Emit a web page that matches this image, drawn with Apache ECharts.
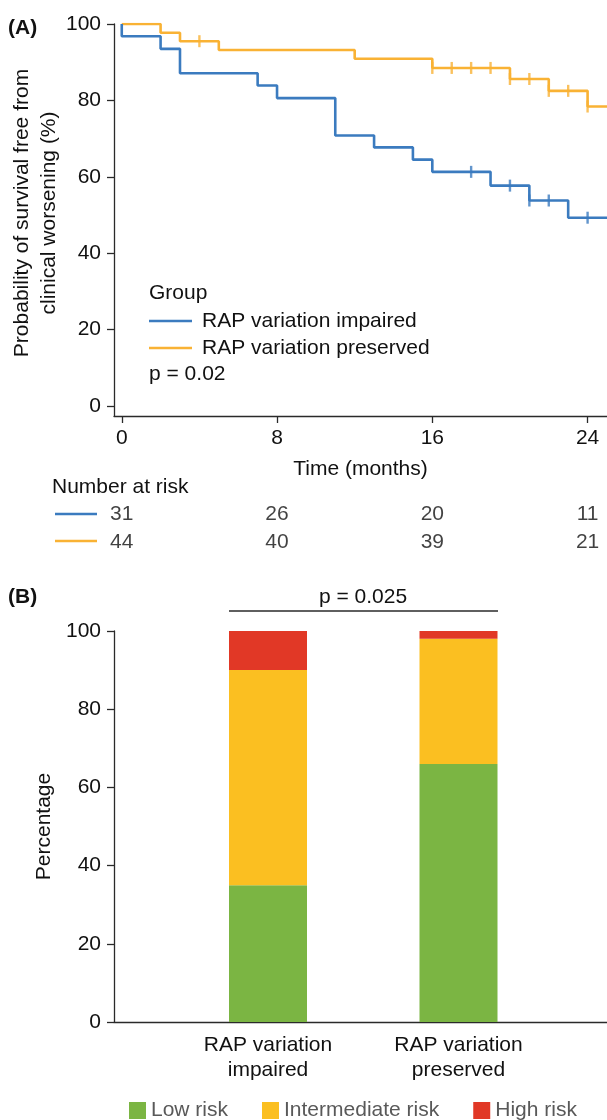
<!DOCTYPE html>
<html>
<head>
<meta charset="utf-8">
<script src="https://cdn.jsdelivr.net/npm/echarts@6/dist/echarts.min.js"></script>
<style>
html,body{margin:0;padding:0;background:#fff;}
#chart{width:607px;height:1120px;}
</style>
</head>
<body>
<div id="chart"></div>
<script>
// ---------- Data ----------
const groupNames = ['RAP variation impaired', 'RAP variation preserved'];

// Kaplan-Meier steps (time in months, survival %)
const impairedTimes = [0, 0, 2, 3, 7, 8, 11, 13, 15, 16, 19, 21, 23];
const impairedSurv = [100, 96.8, 93.5, 87.1, 83.9, 80.6, 70.8, 67.7, 64.5, 61.3, 57.7, 53.8, 49.3];
const impairedCensorTimes = [18, 20, 21, 22, 24];
const impairedCensorSurv = [61.3, 57.7, 53.8, 53.8, 49.3];

const preservedTimes = [0, 2, 3, 5, 12, 16, 20, 22, 24];
const preservedSurv = [100, 97.7, 95.5, 93.2, 90.9, 88.5, 85.6, 82.5, 78.4];
const preservedCensorTimes = [4, 16, 17, 18, 19, 20, 21, 22, 23, 24];
const preservedCensorSurv = [95.5, 88.5, 88.5, 88.5, 88.5, 85.6, 85.6, 82.5, 82.5, 78.4];

const followUpEnd = 25;
const kmXTicks = [0, 8, 16, 24];
const kmYTicks = [0, 20, 40, 60, 80, 100];

// Number at risk
const riskTimes = [0, 8, 16, 24];
const riskImpaired = [31, 26, 20, 11];
const riskPreserved = [44, 40, 39, 21];

// Stacked bars (percentage)
const barCategories = ['RAP variation\nimpaired', 'RAP variation\npreserved'];
const lowRisk = [35, 66];
const intermediateRisk = [55, 32];
const highRisk = [10, 2];
const riskNames = ['Low risk', 'Intermediate risk', 'High risk'];

// ---------- Style ----------
const FONT = 'Liberation Sans, Arial, Helvetica, sans-serif';
const FS = 21;
const BLUE = '#3b7bbf';
const ORANGE = '#f9b234';
const GREEN = '#7bb543';
const YELLOW = '#fbbf21';
const RED = '#e13826';
const AXIS = '#2a2a2a';
const TXT = '#111';

function kmPoints(times, surv) {
  const pts = times.map((t, i) => [t, surv[i]]);
  pts.push([followUpEnd, surv[surv.length - 1]]);
  return pts;
}
function zip(a, b) { return a.map((v, i) => [v, b[i]]); }

const chart = echarts.init(document.getElementById('chart'), null, {renderer: 'canvas'});

const axisLine = {show: true, onZero: false, lineStyle: {color: AXIS, width: 1.3}};
const axisTick = {show: true, inside: false, length: 7, lineStyle: {color: AXIS, width: 1.3}};
const axisLabel = {color: TXT, fontSize: FS, fontFamily: FONT};
const nameStyle = {color: TXT, fontSize: FS, fontFamily: FONT};

// bar plot band geometry (category axis placed inside the wider frame)
const barLeft = 172.75, barRight = 53.25, frameLeft = 114;

const option = {
  animation: false,
  backgroundColor: '#fff',
  textStyle: {fontFamily: FONT},
  grid: [
    {left: 114, right: 0, top: 24, height: 392, outerBoundsMode: 'none'},
    {left: 114, right: 0, top: 487, height: 83, outerBoundsMode: 'none'},
    {left: barLeft, right: barRight, top: 631, bottom: 98, outerBoundsMode: 'none'},
    {left: frameLeft, right: 0, top: 631, bottom: 98, outerBoundsMode: 'none'}
  ],
  xAxis: [
    {
      gridIndex: 0, type: 'value', min: -0.4, max: followUpEnd,
      axisLine: axisLine,
      axisTick: Object.assign({}, axisTick, {customValues: kmXTicks}),
      axisLabel: Object.assign({}, axisLabel, {customValues: kmXTicks, margin: 12}),
      splitLine: {show: false},
      name: 'Time (months)', nameLocation: 'middle', nameGap: 43, nameTextStyle: nameStyle
    },
    {gridIndex: 1, type: 'value', min: -0.4, max: followUpEnd, show: false},
    {
      gridIndex: 2, type: 'category', data: barCategories,
      axisLine: {show: false}, axisTick: {show: false},
      axisLabel: Object.assign({}, axisLabel, {margin: 11, lineHeight: 25, interval: 0}),
      splitLine: {show: false}
    },
    {
      gridIndex: 3, type: 'value', min: 0, max: 1,
      axisLine: axisLine, axisTick: {show: false}, axisLabel: {show: false}, splitLine: {show: false}
    }
  ],
  yAxis: [
    {
      gridIndex: 0, type: 'value', min: -2.6, max: 100,
      axisLine: axisLine,
      axisTick: Object.assign({}, axisTick, {customValues: kmYTicks}),
      axisLabel: Object.assign({}, axisLabel, {customValues: kmYTicks, margin: 13}),
      splitLine: {show: false},
      name: 'Probability of survival free from\nclinical worsening (%)',
      nameLocation: 'middle', nameGap: 51, nameMoveOverlap: false,
      nameTextStyle: Object.assign({}, nameStyle, {lineHeight: 27, padding: [0, 0, 0, 14]})
    },
    {gridIndex: 1, type: 'value', min: 0, max: 3, inverse: true, show: false},
    {
      gridIndex: 2, type: 'value', min: 0, max: 100, interval: 20,
      offset: barLeft - frameLeft,
      axisLine: axisLine, axisTick: axisTick,
      axisLabel: Object.assign({}, axisLabel, {margin: 13}),
      splitLine: {show: false},
      name: 'Percentage', nameLocation: 'middle', nameGap: 57, nameTextStyle: nameStyle
    },
    {gridIndex: 3, type: 'value', min: 0, max: 100, show: false}
  ],
  legend: {
    data: riskNames,
    left: 124, top: 1095,
    icon: 'rect', itemWidth: 17, itemHeight: 17, itemGap: 34,
    textStyle: {color: '#595959', fontSize: FS, fontFamily: FONT}
  },
  series: [
    {
      name: groupNames[0], type: 'line', step: 'end', xAxisIndex: 0, yAxisIndex: 0,
      data: kmPoints(impairedTimes, impairedSurv), showSymbol: false,
      lineStyle: {color: BLUE, width: 2.6}, itemStyle: {color: BLUE}, z: 3
    },
    {
      name: groupNames[1], type: 'line', step: 'end', xAxisIndex: 0, yAxisIndex: 0,
      data: kmPoints(preservedTimes, preservedSurv), showSymbol: false,
      lineStyle: {color: ORANGE, width: 2.6}, itemStyle: {color: ORANGE}, z: 2
    },
    {
      name: groupNames[0] + ' censored', type: 'scatter', xAxisIndex: 0, yAxisIndex: 0,
      data: zip(impairedCensorTimes, impairedCensorSurv),
      symbol: 'rect', symbolSize: [2.4, 12], itemStyle: {color: BLUE}, z: 4
    },
    {
      name: groupNames[1] + ' censored', type: 'scatter', xAxisIndex: 0, yAxisIndex: 0,
      data: zip(preservedCensorTimes, preservedCensorSurv),
      symbol: 'rect', symbolSize: [2.4, 12], itemStyle: {color: ORANGE}, z: 4
    },
    {
      name: 'risk impaired', type: 'scatter', xAxisIndex: 1, yAxisIndex: 1,
      data: riskTimes.map((t, i) => [t, 1, riskImpaired[i]]),
      symbolSize: 1, itemStyle: {color: 'rgba(0,0,0,0)'},
      label: {show: true, position: 'inside', formatter: p => p.value[2], color: TXT, fontSize: FS, fontFamily: FONT}
    },
    {
      name: 'risk preserved', type: 'scatter', xAxisIndex: 1, yAxisIndex: 1,
      data: riskTimes.map((t, i) => [t, 2, riskPreserved[i]]),
      symbolSize: 1, itemStyle: {color: 'rgba(0,0,0,0)'},
      label: {show: true, position: 'inside', formatter: p => p.value[2], color: TXT, fontSize: FS, fontFamily: FONT}
    },
    {
      name: riskNames[0], type: 'bar', stack: 'risk', xAxisIndex: 2, yAxisIndex: 2, barWidth: 78,
      data: lowRisk, itemStyle: {color: GREEN}
    },
    {
      name: riskNames[1], type: 'bar', stack: 'risk', xAxisIndex: 2, yAxisIndex: 2, barWidth: 78,
      data: intermediateRisk, itemStyle: {color: YELLOW}
    },
    {
      name: riskNames[2], type: 'bar', stack: 'risk', xAxisIndex: 2, yAxisIndex: 2, barWidth: 78,
      data: highRisk, itemStyle: {color: RED}
    }
  ],
  graphic: [
    {type: 'text', x: 8, y: 28, style: {text: '(A)', font: 'bold 21px ' + FONT, fill: TXT, verticalAlign: 'middle'}},
    {type: 'text', x: 8, y: 597, style: {text: '(B)', font: 'bold 21px ' + FONT, fill: TXT, verticalAlign: 'middle'}},
    {type: 'text', x: 149, y: 293, style: {text: 'Group', font: FS + 'px ' + FONT, fill: TXT, verticalAlign: 'middle'}},
    {type: 'line', shape: {x1: 149, y1: 321, x2: 192, y2: 321}, style: {stroke: BLUE, lineWidth: 2.6}},
    {type: 'line', shape: {x1: 149, y1: 348, x2: 192, y2: 348}, style: {stroke: ORANGE, lineWidth: 2.6}},
    {type: 'text', x: 202, y: 321, style: {text: groupNames[0], font: FS + 'px ' + FONT, fill: TXT, verticalAlign: 'middle'}},
    {type: 'text', x: 202, y: 348, style: {text: groupNames[1], font: FS + 'px ' + FONT, fill: TXT, verticalAlign: 'middle'}},
    {type: 'text', x: 149, y: 374, style: {text: 'p = 0.02', font: FS + 'px ' + FONT, fill: TXT, verticalAlign: 'middle'}},
    {type: 'text', x: 52, y: 487, style: {text: 'Number at risk', font: FS + 'px ' + FONT, fill: TXT, verticalAlign: 'middle'}},
    {type: 'line', shape: {x1: 55, y1: 514, x2: 97, y2: 514}, style: {stroke: BLUE, lineWidth: 2.6}},
    {type: 'line', shape: {x1: 55, y1: 541, x2: 97, y2: 541}, style: {stroke: ORANGE, lineWidth: 2.6}},
    {type: 'text', x: 363, y: 597, style: {text: 'p = 0.025', font: FS + 'px ' + FONT, fill: TXT, align: 'center', verticalAlign: 'middle'}},
    {type: 'line', shape: {x1: 229, y1: 611, x2: 498, y2: 611}, style: {stroke: AXIS, lineWidth: 1.5}}
  ]
};

chart.setOption(option);
</script>
</body>
</html>
